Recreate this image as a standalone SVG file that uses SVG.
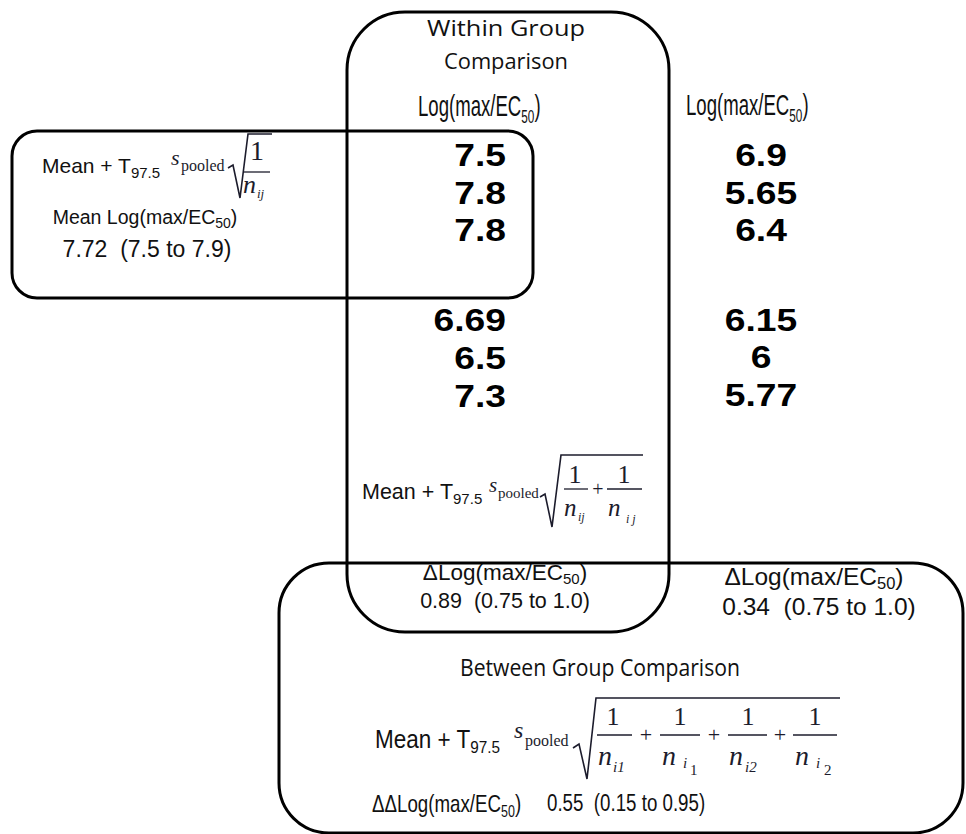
<svg xmlns="http://www.w3.org/2000/svg" width="966" height="834" viewBox="0 0 966 834">
<style>
.box{fill:none;stroke:#000;stroke-width:3}
.cal{font-family:"Open Sans","Noto Sans",sans-serif;fill:#111}
.ar{font-family:"Liberation Sans",Arial,sans-serif;fill:#111}
.num{font-family:"Liberation Sans",Arial,sans-serif;font-size:31px;font-weight:bold;fill:#000}
.nar{font-family:"Liberation Sans",Arial,sans-serif;font-size:30px;fill:#111}
.mi{font-family:"Liberation Serif","Times New Roman",serif;font-style:italic;fill:#1c1c2c}
.mr{font-family:"Liberation Serif","Times New Roman",serif;fill:#1c1c2c}
.rad{fill:none;stroke:#1c1c2c;stroke-width:1.6}
.fl{stroke:#1c1c2c;stroke-width:1.3}
</style>
<rect width="966" height="834" fill="#fff"/>

<g id="within-group">
<rect class="box" x="347" y="12" width="322" height="620" rx="58"/>
<text class="cal" x="506" y="36" font-size="21" text-anchor="middle" textLength="158" lengthAdjust="spacingAndGlyphs">Within Group</text>
<text class="cal" x="506" y="69" font-size="21" text-anchor="middle" textLength="124" lengthAdjust="spacingAndGlyphs">Comparison</text>
<g transform="translate(418,116) scale(0.62,1)"><text class="nar">Log(max/EC<tspan font-size="19" dy="7">50</tspan><tspan dy="-7">)</tspan></text></g>
<text class="num" transform="translate(506,166) scale(1.2,1)" text-anchor="end">7.5</text>
<text class="num" transform="translate(506,204) scale(1.2,1)" text-anchor="end">7.8</text>
<text class="num" transform="translate(506,241) scale(1.2,1)" text-anchor="end">7.8</text>
<text class="num" transform="translate(506,331) scale(1.2,1)" text-anchor="end">6.69</text>
<text class="num" transform="translate(506,369) scale(1.2,1)" text-anchor="end">6.5</text>
<text class="num" transform="translate(506,407) scale(1.2,1)" text-anchor="end">7.3</text>
<text class="ar" x="362" y="499" font-size="21.5">Mean + T<tspan font-size="15" dy="5">97.5</tspan></text>
<text class="mi" x="489" y="492" font-size="21">s</text>
<text class="mr" x="498" y="498" font-size="15">pooled</text>
<path class="rad" d="M540,497 L545,494 L552,527 L561,455 L643,455"/>
<text class="mr" x="575" y="483" font-size="26" text-anchor="middle">1</text>
<line class="fl" x1="564" y1="489" x2="588" y2="489"/>
<text class="mi" x="564" y="516" font-size="25">n</text>
<text class="mi" x="578" y="521" font-size="12">ij</text>
<text class="mr" x="598" y="496" font-size="20" text-anchor="middle">+</text>
<text class="mr" x="624" y="483" font-size="26" text-anchor="middle">1</text>
<line class="fl" x1="607" y1="489" x2="642" y2="489"/>
<text class="mi" x="608" y="516" font-size="25">n</text>
<text class="mi" x="626" y="523" font-size="12">i j</text>
<text class="ar" x="505" y="580" font-size="22.5" text-anchor="middle">ΔLog(max/EC<tspan font-size="15" dy="4">50</tspan><tspan dy="-4">)</tspan></text>
<text class="ar" x="505" y="608" font-size="21.5" text-anchor="middle" xml:space="preserve">0.89  (0.75 to 1.0)</text>
</g>

<g id="pooled-mean">
<rect class="box" x="12" y="131" width="521" height="167" rx="25"/>
<text class="ar" x="42" y="173" font-size="21">Mean + T<tspan font-size="15" dy="5">97.5</tspan></text>
<text class="mi" x="171" y="165" font-size="22">s</text>
<text class="mr" x="181" y="171" font-size="16">pooled</text>
<path class="rad" d="M228,168 L233,165 L240,198 L248,134 L272,134"/>
<text class="mr" x="257" y="160" font-size="28" text-anchor="middle">1</text>
<line class="fl" x1="243" y1="172" x2="270" y2="172"/>
<text class="mi" x="243" y="193" font-size="26">n</text>
<text class="mi" x="257" y="198" font-size="13">ij</text>
<text class="ar" x="145" y="224" font-size="19.5" text-anchor="middle">Mean Log(max/EC<tspan font-size="14" dy="4">50</tspan><tspan dy="-4">)</tspan></text>
<text class="ar" x="147" y="257" font-size="23" text-anchor="middle" xml:space="preserve">7.72  (7.5 to 7.9)</text>
</g>

<g id="second-group">
<g transform="translate(686,115) scale(0.62,1)"><text class="nar">Log(max/EC<tspan font-size="19" dy="7">50</tspan><tspan dy="-7">)</tspan></text></g>
<text class="num" transform="translate(761,166) scale(1.2,1)" text-anchor="middle">6.9</text>
<text class="num" transform="translate(761,204) scale(1.2,1)" text-anchor="middle">5.65</text>
<text class="num" transform="translate(761,241) scale(1.2,1)" text-anchor="middle">6.4</text>
<text class="num" transform="translate(761,331) scale(1.2,1)" text-anchor="middle">6.15</text>
<text class="num" transform="translate(761,368) scale(1.2,1)" text-anchor="middle">6</text>
<text class="num" transform="translate(761,406) scale(1.2,1)" text-anchor="middle">5.77</text>
<text class="ar" x="814" y="585" font-size="24.5" text-anchor="middle">ΔLog(max/EC<tspan font-size="16.5" dy="4">50</tspan><tspan dy="-4">)</tspan></text>
<text class="ar" x="819" y="615" font-size="24.5" text-anchor="middle" xml:space="preserve">0.34  (0.75 to 1.0)</text>
</g>

<g id="between-group">
<rect class="box" x="279" y="563" width="684" height="270" rx="50"/>
<text class="cal" x="600" y="676" font-size="23" text-anchor="middle" textLength="280" lengthAdjust="spacingAndGlyphs">Between Group Comparison</text>
<g transform="translate(375,748) scale(0.9,1)"><text class="ar" font-size="25">Mean + T<tspan font-size="17" dy="5">97.5</tspan></text></g>
<text class="mi" x="514" y="738" font-size="24">s</text>
<text class="mr" x="525" y="746" font-size="16">pooled</text>
<path class="rad" d="M573,748 L579,744 L587,779 L596,698 L840,698"/>
<text class="mr" x="613" y="725" font-size="26" text-anchor="middle">1</text>
<line class="fl" x1="597" y1="735" x2="632" y2="735"/>
<text class="mi" x="598" y="765" font-size="28">n</text>
<text class="mi" x="613" y="772" font-size="15">i1</text>
<text class="mr" x="646" y="742" font-size="22" text-anchor="middle">+</text>
<text class="mr" x="680" y="725" font-size="26" text-anchor="middle">1</text>
<line class="fl" x1="660" y1="735" x2="700" y2="735"/>
<text class="mi" x="662" y="765" font-size="28">n</text>
<text class="mi" x="683" y="768" font-size="15">i</text>
<text class="mr" x="690" y="775" font-size="15">1</text>
<text class="mr" x="714" y="742" font-size="22" text-anchor="middle">+</text>
<text class="mr" x="748" y="725" font-size="26" text-anchor="middle">1</text>
<line class="fl" x1="728" y1="735" x2="767" y2="735"/>
<text class="mi" x="729" y="765" font-size="28">n</text>
<text class="mi" x="745" y="772" font-size="15">i2</text>
<text class="mr" x="780" y="742" font-size="22" text-anchor="middle">+</text>
<text class="mr" x="815" y="725" font-size="26" text-anchor="middle">1</text>
<line class="fl" x1="793" y1="735" x2="837" y2="735"/>
<text class="mi" x="795" y="765" font-size="28">n</text>
<text class="mi" x="816" y="768" font-size="15">i</text>
<text class="mr" x="824" y="775" font-size="15">2</text>
<g transform="translate(372,812) scale(0.78,1)"><text class="ar" font-size="24">ΔΔLog(max/EC<tspan font-size="16" dy="5">50</tspan><tspan dy="-5">)</tspan></text></g>
<g transform="translate(547,811) scale(0.78,1)"><text class="ar" font-size="24" xml:space="preserve">0.55  (0.15 to 0.95)</text></g>
</g>
</svg>
